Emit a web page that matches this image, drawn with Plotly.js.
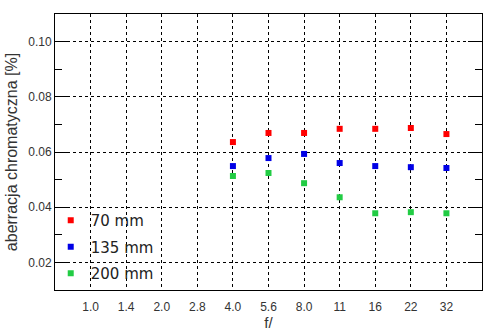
<!DOCTYPE html>
<html><head><meta charset="utf-8">
<script src="https://cdn.plot.ly/plotly-3.0.1.min.js"></script>
<style>html,body{margin:0;padding:0;background:#fff}#c{width:494px;height:331px}</style>
</head><body><div id="c"></div>
<script>
const apertures = ["1.0","1.4","2.0","2.8","4.0","5.6","8.0","11","16","22","32"];
const measured = ["4.0","5.6","8.0","11","16","22","32"];
const ca70 = [0.0636,0.0669,0.0669,0.0684,0.0684,0.0687,0.0665];
const ca135 = [0.0549,0.0578,0.0593,0.0560,0.0549,0.0545,0.0542];
const ca200 = [0.0513,0.0524,0.0487,0.0436,0.0378,0.0382,0.0378];
const names = ["70 mm","135 mm","200 mm"];
const colors = ["#ff0000","#0000e6","#22cc44"];
const series = [ca70, ca135, ca200];

const traces = series.map((s,i)=>({
  x: measured, y: s, name: names[i], legendgroup:'g'+i, type:'scatter', mode:'markers',
  marker:{symbol:'square', size:6, color:colors[i]}
}));
traces.unshift({x:apertures, y:apertures.map(()=>null), mode:'markers', showlegend:false, hoverinfo:'skip'});

const layout = {
  width:494, height:331,
  margin:{l:55, r:12, t:14, b:41},
  paper_bgcolor:'#fff', plot_bgcolor:'#fff',
  showlegend:true,
  legend:{x:-0.01, y:0.0, xanchor:'left', yanchor:'bottom', bgcolor:'rgba(0,0,0,0)',
    font:{family:'DejaVu Sans, sans-serif', size:15, color:'#222'}, itemwidth:30, tracegroupgap:4},
  xaxis:{type:'category', categoryorder:'array', categoryarray:apertures, range:[-1,11],
    showline:true, linecolor:'#000', linewidth:1, mirror:true,
    showgrid:true, gridcolor:'#000', griddash:'dot', gridwidth:1,
    ticks:'', zeroline:false, ticklabelstandoff:6,
    tickfont:{family:'Liberation Sans, Arial, sans-serif', size:12, color:'#333'},
    title:{text:'f/', font:{family:'Liberation Sans, Arial, sans-serif', size:15, color:'#333'}, standoff:0}},
  yaxis:{range:[0.01,0.11], tickvals:[0.02,0.04,0.06,0.08,0.10], ticktext:['0.02','0.04','0.06','0.08','0.10'],
    showline:true, linecolor:'#000', linewidth:1, mirror:'ticks',
    ticks:'inside', ticklen:14, tickcolor:'#000', tickwidth:1,
    minor:{tickvals:[0.03,0.05,0.07,0.09], ticks:'inside', ticklen:7, tickcolor:'#000', showgrid:false},
    showgrid:true, gridcolor:'#000', griddash:'dot', gridwidth:1, zeroline:false,
    tickfont:{family:'Liberation Sans, Arial, sans-serif', size:12, color:'#333'},
    title:{text:'aberracja chromatyczna [%]', font:{family:'Liberation Sans, Arial, sans-serif', size:16, color:'#333'}, standoff:6}}
};
Plotly.newPlot('c', traces, layout, {displayModeBar:false, staticPlot:true});
</script></body></html>
